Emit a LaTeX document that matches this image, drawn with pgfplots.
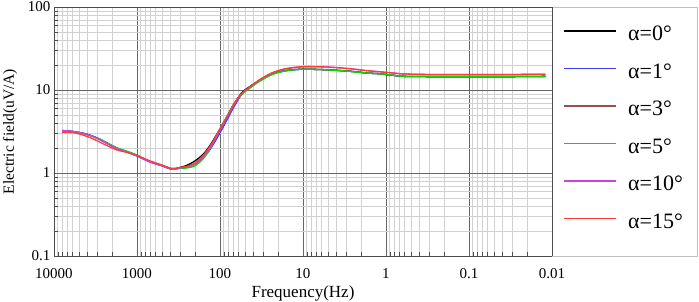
\documentclass[border=0pt]{standalone}
\usepackage{pgfplots}
\pgfplotsset{compat=1.18}
\usepackage{pgfplotstable}
\usepackage{fontspec}
\setmainfont{Liberation Serif}
\definecolor{cBlue}{RGB}{60,60,255}
\definecolor{cBrown}{RGB}{150,80,80}
\definecolor{cGreen}{RGB}{0,220,0}
\definecolor{cViolet}{RGB}{200,70,220}
\definecolor{cRed}{RGB}{255,60,60}
\pgfplotstableread{
f      a0    a1    a3    a5    a10   a15
8000   3.20  3.25  3.20  3.15  3.25  3.10
6000   3.15  3.18  3.15  3.12  3.18  3.08
4400   3.00  3.00  3.00  2.98  3.00  2.85
3500   2.80  2.80  2.80  2.78  2.80  2.62
2800   2.55  2.52  2.55  2.55  2.52  2.35
2200   2.25  2.22  2.25  2.25  2.22  2.10
1760   2.00  1.98  2.00  2.02  1.98  1.90
1300   1.80  1.78  1.80  1.82  1.78  1.76
1000   1.63  1.60  1.63  1.64  1.60  1.62
700    1.38  1.36  1.38  1.38  1.36  1.40
500    1.23  1.22  1.23  1.24  1.22  1.25
382    1.12  1.11  1.12  1.14  1.11  1.13
300    1.17  1.15  1.15  1.14  1.15  1.17
250    1.24  1.19  1.19  1.15  1.19  1.20
200    1.40  1.28  1.30  1.22  1.28  1.32
158    1.70  1.55  1.62  1.50  1.57  1.65
130    2.20  1.95  2.10  2.00  2.05  2.15
100    3.40  3.05  3.35  3.40  3.30  3.40
80     5.00  4.60  5.00  5.10  4.90  5.00
69     6.60  6.10  6.60  6.60  6.50  6.60
55     9.20  8.80  9.00  8.80  9.00  9.00
45    10.80 10.50 10.60 10.30 10.60 10.60
33    13.20 13.10 13.10 12.80 13.30 13.40
23    15.70 15.70 15.70 15.50 16.20 16.30
15.7  17.20 17.20 17.20 17.10 18.00 18.20
10    17.80 17.80 17.80 17.80 19.00 19.10
5     17.50 17.50 17.50 17.50 18.90 18.90
2.5   16.70 16.70 16.70 16.60 17.90 17.90
1.7   16.00 16.00 16.00 16.00 17.10 17.10
1.2   15.70 15.70 15.70 15.70 16.60 16.60
0.8   15.00 15.00 15.00 15.00 16.00 16.00
0.6   14.60 14.60 14.60 14.60 15.60 15.60
0.3   14.50 14.50 14.50 14.50 15.40 15.40
0.1   14.50 14.50 14.50 14.50 15.40 15.40
0.03  14.50 14.50 14.50 14.50 15.40 15.40
0.012 14.60 14.60 14.60 14.60 15.50 15.50
}\datatable
\begin{document}
\begin{tikzpicture}
\useasboundingbox (-54pt,-45pt) rectangle (645pt,256pt);
\begin{axis}[
  name=ax,
  scale only axis,
  width=498pt, height=249pt,
  xmode=log, ymode=log,
  x dir=reverse,
  xmin=0.01, xmax=10000,
  ymin=0.1, ymax=100,
  xtick={10000,1000,100,10,1,0.1,0.01},
  xticklabels={10000,1000,100,10,1,0.1,0.01},
  ytick={0.1,1,10,100},
  yticklabels={0.1,1,10,100},
  minor xtick={0.02,0.03,0.04,0.05,0.06,0.07,0.08,0.09,0.2,0.3,0.4,0.5,0.6,0.7,0.8,0.9,2,3,4,5,6,7,8,9,20,30,40,50,60,70,80,90,200,300,400,500,600,700,800,900,2000,3000,4000,5000,6000,7000,8000,9000},
  minor ytick={0.2,0.3,0.4,0.5,0.6,0.7,0.8,0.9,2,3,4,5,6,7,8,9,20,30,40,50,60,70,80,90},
  grid=both,
  major grid style={draw=black!60, line width=0.7pt},
  minor grid style={draw=black!18, line width=0.6pt},
  axis line style={draw=black!70, line width=0.7pt},
  tick align=inside,
  xtick pos=bottom, ytick pos=left,
  major tick length=0pt, minor tick length=4pt,
  tick style={black!70},
  /pgf/number format/assume math mode=true,
  tick label style={font=\fontsize{15}{18}\selectfont},
  xticklabel style={yshift=-9pt},
  xlabel={Frequency(Hz)},
  ylabel={Electric field(uV/A)},
  xlabel style={font=\fontsize{17}{20}\selectfont, yshift=0pt},
  ylabel style={font=\fontsize{15.5}{18}\selectfont, yshift=4pt},
  legend image code/.code={\fill[#1, draw=none] (0pt,0.9pt) rectangle (52pt,2.3pt);},
  legend style={at={(1.024,0.93)}, anchor=north west, draw=none, fill=none,
    inner sep=0pt, row sep=21.5pt, column sep=12pt,
    font=\fontsize{22}{26}\selectfont,
    nodes={inner sep=0pt, text height=16pt, text depth=0pt}},
  legend cell align=left,
  every axis plot/.append style={line width=1.3pt, smooth, tension=0.5},
]
\addplot[black] table[x=f, y=a0] {\datatable};
\addlegendentry{α=0°}
\addplot[cBlue] table[x=f, y=a1] {\datatable};
\addlegendentry{α=1°}
\addplot[cBrown] table[x=f, y=a3] {\datatable};
\addlegendentry{α=3°}
\addplot[cGreen] table[x=f, y=a5] {\datatable};
\addlegendentry{α=5°}
\addplot[cViolet] table[x=f, y=a10] {\datatable};
\addlegendentry{α=10°}
\addplot[cRed] table[x=f, y=a15] {\datatable};
\addlegendentry{α=15°}
\end{axis}
\draw[black!25, line width=0.8pt] (ax.south east) rectangle ([xshift=145pt]ax.north east);
\draw[black!70, line width=0.7pt] (ax.south east) -- (ax.north east);
\end{tikzpicture}
\end{document}
